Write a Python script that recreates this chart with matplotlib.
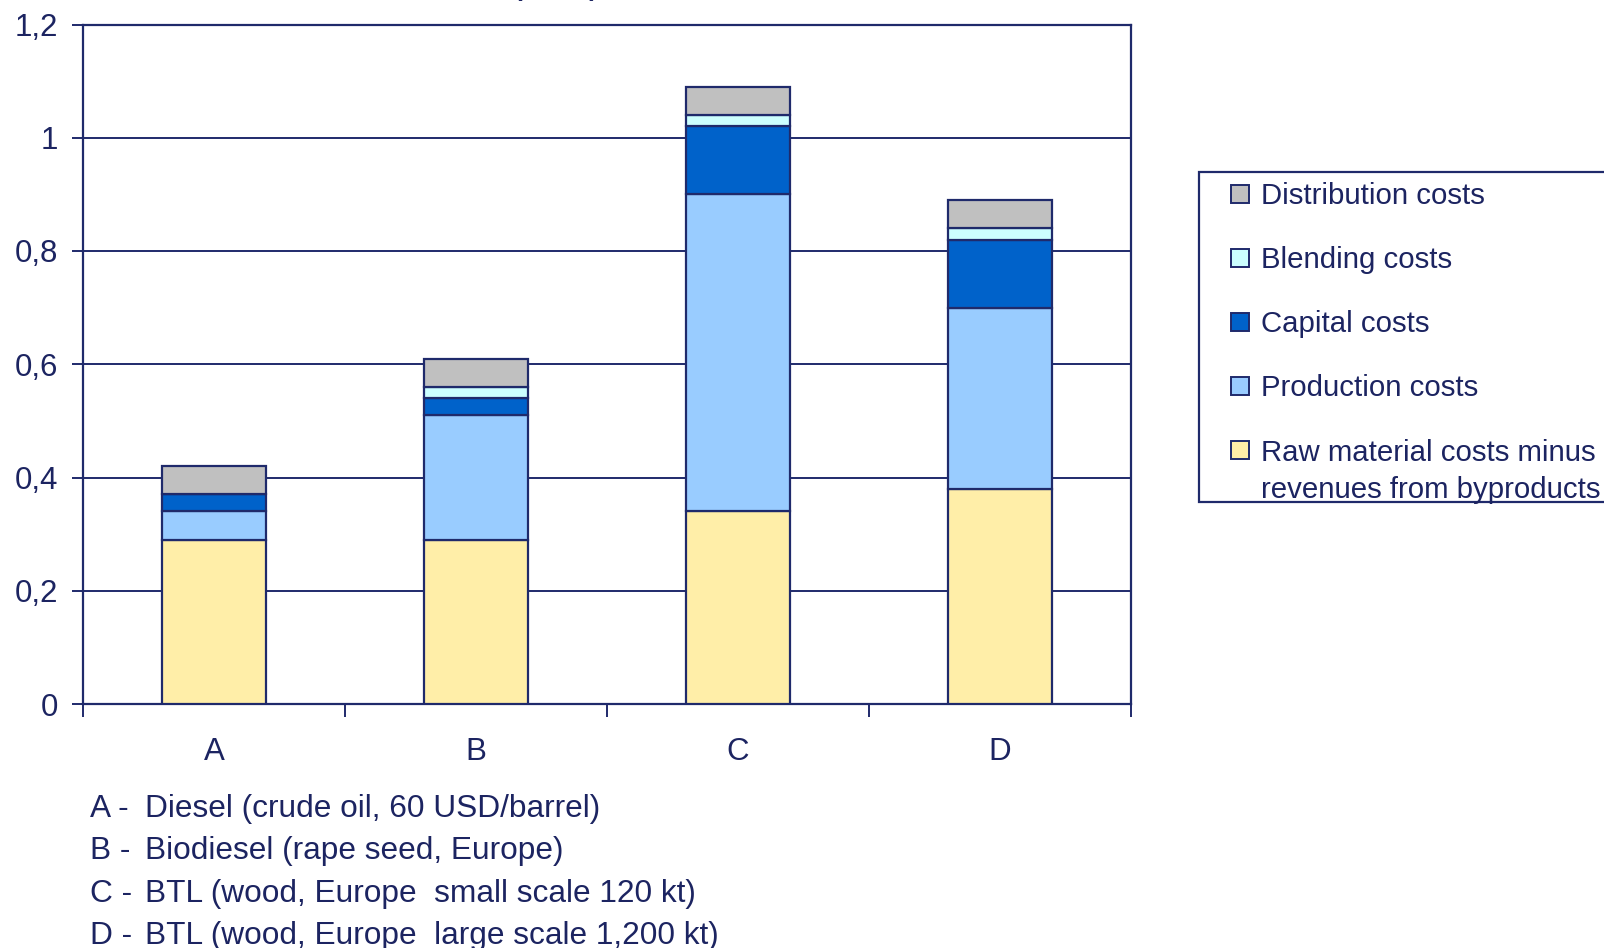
import numpy as np
import matplotlib.pyplot as plt
from matplotlib.patches import Rectangle

plt.rcParams['font.family'] = ['Liberation Sans', 'DejaVu Sans']

categories = ['A', 'B', 'C', 'D']
series_names = ['Raw material costs minus\nrevenues from byproducts', 'Production costs',
                'Capital costs', 'Blending costs', 'Distribution costs']
raw_material = [0.29, 0.29, 0.34, 0.38]
production = [0.05, 0.22, 0.56, 0.32]
capital = [0.03, 0.03, 0.12, 0.12]
blending = [0.00, 0.02, 0.02, 0.02]
distribution = [0.05, 0.05, 0.05, 0.05]
footnotes = [('A -', 'Diesel (crude oil, 60 USD/barrel)'),
             ('B -', 'Biodiesel (rape seed, Europe)'),
             ('C -', 'BTL (wood, Europe  small scale 120 kt)'),
             ('D -', 'BTL (wood, Europe  large scale 1,200 kt)')]
y_ticks = [0, 0.2, 0.4, 0.6, 0.8, 1.0, 1.2]
y_ticklabels = ['0', '0,2', '0,4', '0,6', '0,8', '1', '1,2']

colors = ['#FFEEA8', '#99CCFF', '#0062CA', '#CCFFFF', '#C0C0C0']
navy = '#1F2A6B'
txt = '#1C2461'

W, H = 1604, 948
fig = plt.figure(figsize=(W / 100, H / 100), dpi=100)
ax = fig.add_axes([83 / W, 1 - 704 / H, (1131 - 83) / W, (704 - 24.5) / H])

x = np.arange(len(categories))
values = [raw_material, production, capital, blending, distribution]
bottom = np.zeros(len(categories))
for vals, col in zip(values, colors):
    vals = np.array(vals)
    ax.bar(x, vals, width=0.4, bottom=bottom, color=col, edgecolor=navy,
           linewidth=1.6, zorder=3)
    bottom += vals

ax.set_xlim(-0.5, 3.5)
ax.set_ylim(0, 1.2)
ax.set_yticks(y_ticks)
ax.set_yticklabels(y_ticklabels)
ax.yaxis.grid(True, color=navy, linewidth=1.4, zorder=0)
ax.set_xticks(x)
ax.set_xticklabels(categories)
ax.set_xticks(np.arange(-0.5, 4, 1), minor=True)
ax.tick_params(axis='x', which='major', length=0, pad=24, labelsize=22.5, labelcolor=txt)
ax.tick_params(axis='x', which='minor', length=9, width=1.4, color=navy)
ax.tick_params(axis='y', length=8, width=1.4, color=navy, pad=10, labelsize=22.5,
               labelcolor=txt)
for sp in ax.spines.values():
    sp.set_color(navy)
    sp.set_linewidth(1.6)

# heading sits mostly above the top edge
fig.text(598 / W, 1 + 3.5 / H, 'Production costs (€/litre)', ha='right', va='baseline',
         fontsize=18, fontweight='bold', color=txt)

# legend box, running off the right edge
fig.patches.append(Rectangle((1199 / W, 1 - 502 / H), (1620 - 1199) / W, (502 - 172) / H,
                             transform=fig.transFigure, facecolor='white', edgecolor=navy,
                             linewidth=1.6))
row_y = [450, 386, 322, 258, 194]
sq = 18
for name, col, yc in zip(series_names, colors, row_y):
    fig.patches.append(Rectangle((1231 / W, 1 - (yc + sq / 2) / H), sq / W, sq / H,
                                 transform=fig.transFigure, facecolor=col,
                                 edgecolor=navy, linewidth=1.4))
    ty = yc + 21.5 if '\n' in name else yc + 2
    fig.text(1261 / W, 1 - ty / H, name, ha='left', va='center',
             fontsize=21.2, color=txt, linespacing=1.42)

for i, (key, desc) in enumerate(footnotes):
    yc = 809 + 42.3 * i
    fig.text(90 / W, 1 - yc / H, key, ha='left', va='center', fontsize=22.8, color=txt)
    fig.text(145 / W, 1 - yc / H, desc, ha='left', va='center', fontsize=22.8, color=txt)

fig.savefig('out.png', dpi=100)
